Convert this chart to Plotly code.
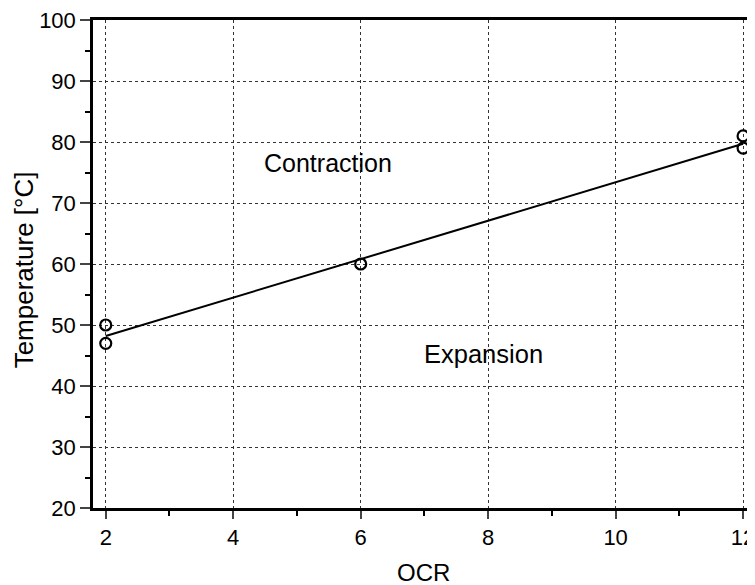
import plotly.graph_objects as go

ocr = [2, 2, 6, 12, 12]
temperature = [50, 47, 60, 81, 79]
fit_ocr = [2, 12]
fit_temp = [48.2, 79.7]
x_ticks = [2, 4, 6, 8, 10, 12]
y_ticks = [20, 30, 40, 50, 60, 70, 80, 90, 100]

fig = go.Figure()
fig.add_trace(go.Scatter(x=fit_ocr, y=fit_temp, mode="lines",
                         line=dict(color="black", width=2), showlegend=False))
fig.add_trace(go.Scatter(x=ocr, y=temperature, mode="markers",
                         marker=dict(symbol="circle-open", size=11, color="black",
                                     line=dict(width=2.2, color="black")),
                         showlegend=False, cliponaxis=False))

fig.add_annotation(x=5.48, y=76.6, text="Contraction", showarrow=False,
                   font=dict(size=25, color="black"))
fig.add_annotation(x=7.92, y=45.2, text="Expansion", showarrow=False,
                   font=dict(size=25.5, color="black"))
fig.add_annotation(xref="paper", yref="paper", x=0, y=0.487, xshift=-69,
                   text="Temperature [°C]", textangle=-90, showarrow=False,
                   xanchor="center", yanchor="middle",
                   font=dict(size=26, color="black"))
fig.add_annotation(xref="paper", yref="paper", x=0.5015, y=0, yshift=-64,
                   text="OCR", showarrow=False,
                   xanchor="center", yanchor="middle",
                   font=dict(size=24, color="black"))

fig.update_layout(
    width=747, height=577,
    margin=dict(l=85, r=0, t=11, b=77),
    paper_bgcolor="white", plot_bgcolor="white",
    font=dict(family="Liberation Sans, Arial, sans-serif", color="black", size=22),
)
fig.update_xaxes(
    range=[1.8, 12.14], tickvals=x_ticks, ticks="outside", ticklen=8, tickwidth=2,
    showline=True, linecolor="black", linewidth=2.5, mirror=True,
    showgrid=True, gridcolor="#333", griddash="3px,3px", gridwidth=1.2,
    zeroline=False, ticklabeloverflow="allow",
    minor=dict(dtick=1, tick0=1, ticks="outside", ticklen=5, tickwidth=2,
               tickcolor="black", showgrid=False),
    tickfont=dict(size=22),
)
fig.update_yaxes(
    range=[20, 100], tickvals=y_ticks, ticks="outside", ticklen=10, tickwidth=2,
    showline=True, linecolor="black", linewidth=2.5,
    showgrid=True, gridcolor="#333", griddash="3px,3px", gridwidth=1.2,
    zeroline=False, ticklabeloverflow="allow",
    minor=dict(dtick=5, tick0=0, ticks="outside", ticklen=5, tickwidth=2,
               tickcolor="black", showgrid=False),
    tickfont=dict(size=22),
)

fig.write_html("out.html")
